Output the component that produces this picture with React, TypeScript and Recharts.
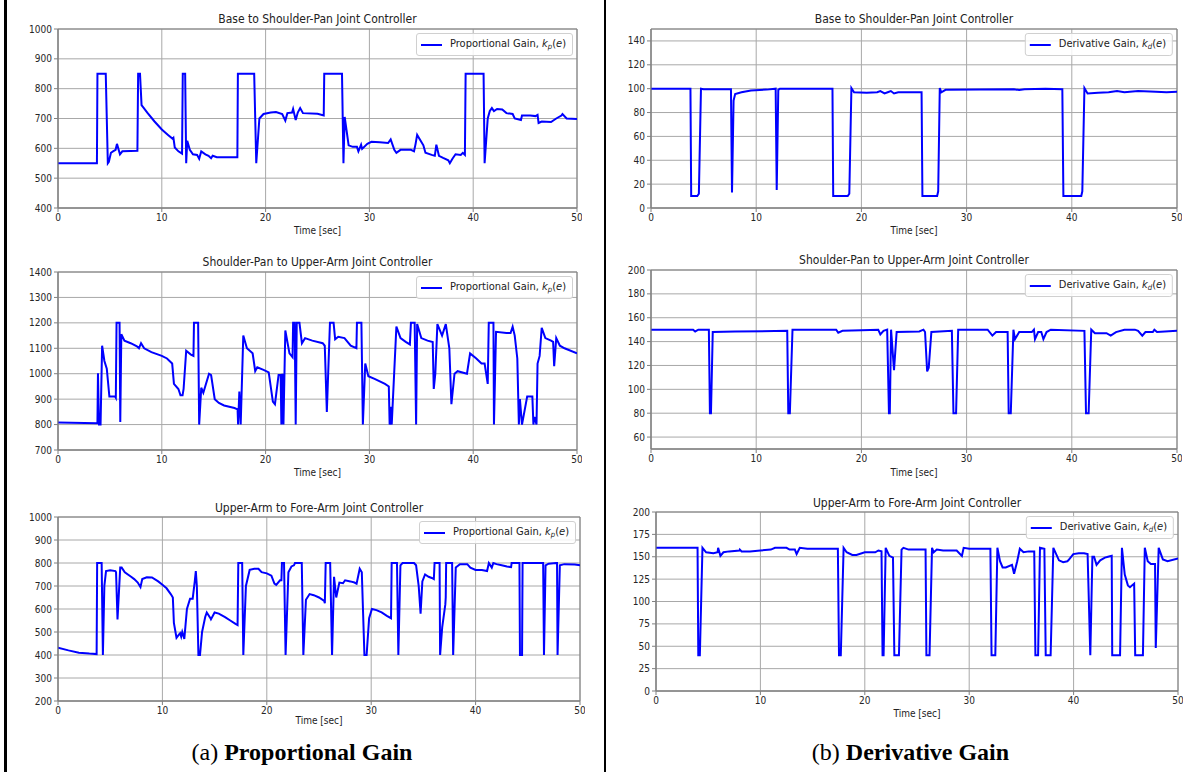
import React from 'react';
import { LineChart, Line, XAxis, YAxis, CartesianGrid, ReferenceArea } from 'recharts';

// time [s], gain
const kpBase: [number, number][] = [
  [0, 550], [3.75, 550], [3.8, 850], [4.6, 850], [4.8, 550], [4.9, 555], [5.1, 585], [5.3, 590], [5.55, 595], [5.68, 615],
  [5.97, 580], [6.2, 590], [7.65, 592], [7.72, 850], [7.9, 850], [8.05, 745], [8.6, 720], [9.3, 690], [10.0, 663], [10.6, 645],
  [11.05, 632], [11.12, 635], [11.25, 603], [11.6, 590], [11.95, 582], [12.02, 850], [12.25, 850], [12.35, 550], [12.45, 625],
  [12.7, 595], [13.0, 580], [13.4, 578], [13.6, 565], [13.8, 590], [14.2, 580], [14.5, 575], [14.75, 567], [14.9, 575],
  [15.3, 570], [17.28, 570], [17.33, 850], [18.9, 850], [19.1, 550], [19.4, 700], [19.8, 715], [20.5, 720], [21.0, 722],
  [21.6, 715], [21.9, 693], [22.1, 718], [22.55, 720], [22.65, 732], [22.9, 695], [23.1, 720], [23.33, 735], [23.6, 718],
  [25.0, 716], [25.6, 710], [25.65, 850], [27.36, 850], [27.5, 550], [27.62, 705], [28.0, 610], [28.4, 605], [28.8, 605],
  [28.94, 590], [29.2, 612], [29.3, 598], [29.8, 615], [30.2, 622], [31.0, 620], [31.8, 618], [32.05, 630], [32.4, 595],
  [32.6, 585], [33.0, 595], [34.0, 595], [34.3, 590], [34.45, 615], [34.6, 645], [35.2, 610], [35.4, 585], [36.0, 578],
  [36.3, 575], [36.45, 612], [36.7, 575], [37.1, 568], [37.6, 560], [37.75, 550], [38.0, 565], [38.3, 580], [38.8, 578],
  [39.0, 585], [39.2, 578], [39.27, 850], [41.0, 850], [41.1, 550], [41.4, 700], [41.6, 725], [41.8, 735], [42.0, 725],
  [42.3, 732], [42.8, 730], [43.2, 718], [43.8, 715], [44.0, 700], [44.6, 695], [44.7, 710], [45.5, 710], [46.0, 708],
  [46.2, 712], [46.3, 685], [46.6, 690], [47.5, 688], [48.0, 700], [48.5, 710], [48.6, 715], [49.0, 700], [50, 698],
];

const kdBase: [number, number][] = [
  [0, 100], [3.75, 100], [3.82, 10], [4.4, 10], [4.55, 12], [4.75, 100], [5.0, 99.5], [7.6, 99.5], [7.7, 13], [7.85, 90],
  [8.0, 95.5], [8.6, 97], [9.5, 98.5], [11.0, 99.2], [11.85, 100], [11.95, 15], [12.1, 99], [12.25, 100], [17.25, 100],
  [17.32, 10], [18.7, 10], [18.85, 12], [19.05, 100.5], [19.3, 97], [20.5, 96.5], [21.5, 97], [21.8, 98], [22.2, 96],
  [22.5, 97], [22.8, 98], [23.1, 96], [23.5, 97], [25.72, 97], [25.8, 10], [27.2, 10], [27.3, 14], [27.45, 100.5],
  [27.6, 97], [28.0, 99], [34.5, 99.5], [35.0, 98.8], [35.5, 99.5], [37.5, 100], [39.1, 99.5], [39.2, 10], [40.9, 10],
  [41.0, 14], [41.2, 100.5], [41.5, 96], [42.5, 96.5], [43.5, 97], [44.3, 98], [45.0, 97], [46.3, 98], [48.0, 97.5],
  [49.0, 97], [50, 97.5],
];

const kpShoulder: [number, number][] = [
  [0, 808], [3.8, 805], [3.85, 1002], [3.95, 800], [4.1, 800], [4.25, 1110], [4.47, 1050], [4.7, 1020], [4.95, 910],
  [5.5, 910], [5.57, 905], [5.64, 1200], [5.93, 1200], [6.0, 810], [6.1, 1155], [6.4, 1130], [7.0, 1120], [7.6, 1108],
  [7.8, 1100], [8.0, 1120], [8.3, 1100], [9.0, 1085], [10.0, 1070], [10.5, 1060], [11.0, 1040], [11.17, 960], [11.6, 940],
  [11.8, 915], [12.0, 915], [12.1, 940], [12.35, 1090], [12.8, 1075], [13.05, 1070], [13.1, 1200], [13.5, 1200],
  [13.6, 800], [13.8, 945], [14.0, 925], [14.55, 1000], [14.75, 995], [15.1, 900], [15.5, 885], [16.0, 875], [17.0, 865],
  [17.3, 860], [17.35, 800], [17.47, 930], [17.6, 800], [17.85, 1150], [18.2, 1100], [18.75, 1080], [19.0, 1010],
  [19.2, 1025], [19.8, 1015], [20.3, 1005], [20.7, 890], [20.9, 880], [21.25, 995], [21.45, 995], [21.52, 800],
  [21.62, 1000], [21.72, 800], [21.9, 1170], [22.3, 1080], [22.6, 1065], [22.65, 1200], [22.8, 1200], [22.9, 800],
  [23.0, 1200], [23.26, 1200], [23.5, 1120], [23.8, 1140], [24.5, 1130], [25.5, 1120], [25.7, 1110], [25.9, 850],
  [26.2, 1200], [26.55, 1200], [26.7, 1135], [27.0, 1145], [27.6, 1140], [28.2, 1110], [28.75, 1100], [28.8, 1200],
  [29.23, 1200], [29.37, 800], [29.6, 1040], [29.9, 990], [30.5, 980], [31.5, 960], [31.87, 950], [31.95, 800],
  [32.05, 870], [32.15, 800], [32.6, 1185], [33.0, 1140], [33.5, 1125], [33.9, 1115], [34.0, 1200], [34.36, 1200],
  [34.5, 800], [34.6, 1195], [35.0, 1140], [35.6, 1130], [36.1, 1125], [36.2, 940], [36.35, 1000], [36.55, 1195],
  [37.0, 1150], [37.36, 1195], [37.7, 1100], [37.9, 880], [38.2, 1000], [38.5, 1010], [39.4, 1000], [39.7, 1080],
  [40.3, 1060], [40.8, 1040], [41.1, 1040], [41.4, 960], [41.5, 1200], [41.95, 1200], [42.0, 800], [42.2, 1165],
  [43.2, 1160], [43.6, 1160], [43.8, 1185], [44.0, 1150], [44.25, 1060], [44.4, 800], [44.5, 900], [44.7, 800],
  [45.2, 910], [45.7, 910], [45.8, 800], [45.9, 830], [46.1, 800], [46.2, 1040], [46.4, 1070], [46.6, 1180],
  [46.95, 1140], [47.5, 1130], [47.7, 1125], [47.8, 1030], [48.0, 1140], [48.35, 1110], [48.8, 1100], [50, 1080],
];

const kdShoulder: [number, number][] = [
  [0, 150], [4.0, 150], [4.2, 148.5], [4.5, 150], [5.5, 150], [5.6, 80], [5.7, 80], [5.87, 148], [8.0, 148.5],
  [12.95, 149], [13.05, 80], [13.2, 80], [13.45, 150], [17.6, 150], [17.8, 147.5], [18.2, 149], [20.0, 149.5],
  [21.6, 150], [21.8, 146], [22.1, 149], [22.45, 150], [22.62, 80], [22.7, 80], [22.82, 150], [23.1, 116], [23.35, 148],
  [25.5, 148.5], [25.9, 150], [26.05, 148], [26.25, 115], [26.4, 118], [26.65, 148], [28.6, 149], [28.75, 80], [29.0, 80],
  [29.2, 150], [32.0, 150], [32.45, 145], [32.8, 148], [33.9, 148], [34.0, 80], [34.2, 80], [34.45, 150], [34.6, 142],
  [35.0, 148], [36.2, 148], [36.4, 150], [36.5, 142], [36.8, 148], [37.1, 148], [37.3, 142], [37.6, 148], [38.0, 150],
  [41.2, 149], [41.35, 80], [41.6, 80], [41.85, 150], [42.2, 147], [43.3, 147], [43.7, 145], [44.2, 148], [45.0, 150],
  [46.0, 150], [46.3, 149], [46.7, 145], [47.0, 148], [47.7, 148], [47.85, 150], [48.1, 148], [50, 149],
];

const kpUpper: [number, number][] = [
  [0, 432], [1, 420], [2, 410], [3, 406], [3.7, 404], [3.75, 800], [4.18, 800], [4.3, 400], [4.44, 700], [4.6, 765],
  [5.0, 768], [5.5, 765], [5.56, 760], [5.7, 555], [5.96, 780], [6.1, 780], [6.4, 760], [7.0, 740], [7.3, 730],
  [7.64, 715], [7.9, 695], [8.07, 730], [8.5, 738], [9.0, 737], [9.6, 720], [10.0, 705], [10.4, 690], [10.8, 665],
  [11.0, 650], [11.1, 540], [11.35, 475], [11.6, 490], [11.7, 495], [11.8, 480], [11.9, 500], [12.1, 470], [12.35, 600],
  [12.65, 645], [12.9, 645], [13.1, 720], [13.2, 765], [13.3, 700], [13.45, 400], [13.6, 400], [13.8, 500], [14.1, 565],
  [14.25, 585], [14.6, 560], [14.65, 555], [15.0, 585], [15.4, 580], [16.0, 565], [16.5, 550], [17.0, 535], [17.2, 530],
  [17.27, 800], [17.64, 800], [17.75, 400], [18.0, 700], [18.36, 770], [18.8, 775], [19.2, 775], [19.5, 760],
  [20.0, 755], [20.44, 745], [20.73, 710], [20.9, 705], [21.27, 725], [21.4, 725], [21.45, 800], [21.65, 800],
  [21.8, 400], [22.07, 760], [22.36, 785], [22.6, 790], [22.7, 800], [23.35, 800], [23.5, 400], [23.75, 640],
  [24.1, 665], [24.5, 660], [25.0, 650], [25.5, 635], [25.56, 625], [25.64, 800], [26.07, 800], [26.25, 400],
  [26.44, 740], [26.65, 650], [26.95, 715], [27.3, 712], [27.5, 725], [28.0, 720], [28.4, 715], [28.6, 710], [28.9, 775],
  [29.1, 760], [29.35, 400], [29.56, 400], [29.8, 560], [30.07, 600], [30.5, 595], [31.0, 585], [31.5, 570], [31.9, 560],
  [31.96, 800], [32.47, 800], [32.6, 400], [32.8, 790], [33.0, 800], [34.1, 800], [34.3, 790], [34.55, 700],
  [34.73, 580], [34.9, 720], [35.16, 750], [35.5, 740], [35.8, 735], [36.0, 730], [36.07, 800], [36.55, 800],
  [36.6, 400], [36.8, 520], [37.1, 620], [37.14, 650], [37.18, 800], [37.75, 800], [37.85, 400], [38.1, 780],
  [38.5, 795], [39.2, 795], [39.5, 780], [40.0, 770], [40.6, 770], [41.1, 765], [41.27, 800], [41.55, 780], [41.7, 800],
  [42.0, 795], [42.5, 790], [43.0, 785], [43.4, 782], [43.45, 800], [44.2, 800], [44.25, 400], [44.45, 400], [44.5, 800],
  [46.47, 800], [46.55, 400], [46.7, 790], [47.0, 797], [47.7, 800], [47.8, 800], [47.85, 400], [48.07, 790],
  [48.5, 795], [49.5, 793], [50, 790],
];

const kdUpper: [number, number][] = [
  [0, 160], [3.98, 160], [4.05, 40], [4.2, 40], [4.45, 160], [4.8, 155], [5.5, 154], [5.9, 155], [5.95, 160],
  [6.17, 151], [6.46, 155], [7.0, 156], [8.0, 157], [8.03, 158], [8.2, 156], [9.0, 156], [10.0, 157], [11.0, 158],
  [11.4, 160], [12.5, 160], [12.8, 158], [13.3, 158], [13.47, 153], [13.77, 160], [14.5, 159], [17.42, 159],
  [17.53, 40], [17.7, 40], [17.97, 160], [18.26, 155], [18.8, 152], [19.2, 152], [20.0, 155], [21.0, 155], [21.3, 157],
  [21.6, 156], [21.7, 40], [21.8, 40], [22.0, 160], [22.35, 151], [22.7, 149], [22.83, 40], [23.27, 40], [23.52, 158],
  [23.7, 160], [24.2, 158], [25.82, 158], [25.9, 40], [26.2, 40], [26.44, 160], [26.6, 155], [26.9, 158], [27.5, 157],
  [28.8, 157], [29.3, 151], [29.47, 160], [30.0, 159], [32.03, 159], [32.14, 40], [32.5, 40], [32.7, 160], [32.95, 145],
  [33.2, 138], [33.5, 138], [34.1, 141], [34.3, 131], [34.6, 145], [34.85, 159], [35.2, 155], [35.7, 156], [36.23, 156],
  [36.34, 40], [36.6, 40], [36.78, 160], [37.2, 159], [37.33, 40], [37.8, 40], [38.06, 160], [38.6, 146], [39.0, 144],
  [39.4, 145], [39.5, 146], [39.97, 153], [40.5, 154], [41.0, 154], [41.34, 153], [41.6, 40], [41.8, 150], [41.96, 150],
  [42.2, 141], [42.55, 146], [43.0, 149], [43.3, 150], [43.65, 151], [43.7, 40], [44.45, 40], [44.63, 160], [44.9, 130],
  [45.2, 118], [45.4, 116], [45.8, 120], [45.9, 40], [46.64, 40], [46.82, 160], [47.1, 145], [47.4, 142], [47.8, 142],
  [47.87, 48], [48.15, 160], [48.55, 147], [49.0, 145], [50, 148],
];

const xTicks = [0, 10, 20, 30, 40, 50];
const kpBaseTicks = [400, 500, 600, 700, 800, 900, 1000];
const kdBaseTicks = [0, 20, 40, 60, 80, 100, 120, 140];
const kpShoulderTicks = [700, 800, 900, 1000, 1100, 1200, 1300, 1400];
const kdShoulderTicks = [60, 80, 100, 120, 140, 160, 180, 200];
const kpUpperTicks = [200, 300, 400, 500, 600, 700, 800, 900, 1000];
const kdUpperTicks = [0, 25, 50, 75, 100, 125, 150, 175, 200];

const FONT = "'DejaVu Sans Condensed', 'DejaVu Sans', sans-serif";
const SERIF = "'Liberation Serif', 'Times New Roman', serif";

function GainLabel({ kind }: { kind: 'p' | 'd' }) {
  return (
    <span>
      {kind === 'p' ? 'Proportional Gain, ' : 'Derivative Gain, '}
      <i>k</i>
      <i style={{ fontSize: '0.7em', position: 'relative', top: '0.3em' }}>{kind}</i>
      (<i>e</i>)
    </span>
  );
}

interface PanelProps {
  series: [number, number][];
  domain: [number, number];
  yTicks: number[];
  left: number;
  top: number;
  width: number;
  height: number;
  title: string;
  titleY: number;
  xlabelY: number;
  kind: 'p' | 'd';
}

function Panel({ series, domain, yTicks, left, top, width, height, title, titleY, xlabelY, kind }: PanelProps) {
  const data = series.map(([t, v]) => ({ t, v }));
  const tick = { fill: '#262626', fontSize: 10, fontFamily: FONT };
  return (
    <>
      <div style={{ position: 'absolute', left, width, top: titleY - 8, height: 16, lineHeight: '16px', textAlign: 'center', fontSize: 12, color: '#222' }}>
        {title}
      </div>
      <div style={{ position: 'absolute', left: left - 55, top: top - 5 }}>
        <LineChart width={width + 60} height={height + 30} data={data} margin={{ top: 5, right: 5, left: 0, bottom: 0 }}>
          <CartesianGrid stroke="#a8a8a8" strokeWidth={1} />
          <XAxis dataKey="t" type="number" domain={[0, 50]} ticks={xTicks} allowDataOverflow height={25}
            tickSize={4} tickMargin={2} stroke="#808080" tick={tick} interval={0} />
          <YAxis type="number" domain={domain} ticks={yTicks} allowDataOverflow width={55}
            tickSize={4} tickMargin={2} stroke="#808080" tick={tick} interval={0} />
          <ReferenceArea x1={0} x2={50} y1={domain[0]} y2={domain[1]} fill="none" stroke="#808080" strokeWidth={1} />
          <Line type="linear" dataKey="v" stroke="#0000ff" strokeWidth={2} dot={false} isAnimationActive={false} />
        </LineChart>
      </div>
      <div style={{ position: 'absolute', left: left + width - 4, top: top + 4, transform: 'translateX(-100%)',
        display: 'flex', alignItems: 'center', whiteSpace: 'nowrap', background: 'rgba(255,255,255,0.85)',
        border: '1px solid #d0d0d0', borderRadius: 3, padding: '3px 6px 3px 4px', fontSize: 11, color: '#222', lineHeight: '14px' }}>
        <span style={{ display: 'inline-block', width: 21, height: 2, background: '#0000ff', marginRight: 8 }} />
        <GainLabel kind={kind} />
      </div>
      <div style={{ position: 'absolute', left, width, top: xlabelY - 7, height: 14, lineHeight: '14px', textAlign: 'center', fontSize: 10, color: '#222' }}>
        Time [sec]
      </div>
    </>
  );
}

export default function App() {
  return (
    <div style={{ position: 'absolute', left: 0, top: 0, width: 1195, height: 772, background: '#fff', fontFamily: FONT, overflow: 'hidden' }}>
      <div style={{ position: 'absolute', left: 4, top: 0, width: 3, height: 772, background: '#000' }} />
      <div style={{ position: 'absolute', left: 604, top: 0, width: 2, height: 772, background: '#000' }} />

      <Panel series={kpBase} domain={[400, 1000]} yTicks={kpBaseTicks} left={58} top={29} width={519} height={179}
        title="Base to Shoulder-Pan Joint Controller" titleY={19} xlabelY={231} kind="p" />
      <Panel series={kdBase} domain={[0, 150]} yTicks={kdBaseTicks} left={651} top={29} width={526} height={179}
        title="Base to Shoulder-Pan Joint Controller" titleY={19} xlabelY={231} kind="d" />
      <Panel series={kpShoulder} domain={[700, 1400]} yTicks={kpShoulderTicks} left={58} top={272} width={519} height={178}
        title="Shoulder-Pan to Upper-Arm Joint Controller" titleY={262} xlabelY={473} kind="p" />
      <Panel series={kdShoulder} domain={[50, 200]} yTicks={kdShoulderTicks} left={651} top={270} width={526} height={179}
        title="Shoulder-Pan to Upper-Arm Joint Controller" titleY={260} xlabelY={473} kind="d" />
      <Panel series={kpUpper} domain={[200, 1000]} yTicks={kpUpperTicks} left={58} top={517} width={522} height={184}
        title="Upper-Arm to Fore-Arm Joint Controller" titleY={508} xlabelY={721} kind="p" />
      <Panel series={kdUpper} domain={[0, 200]} yTicks={kdUpperTicks} left={656} top={512} width={522} height={179}
        title="Upper-Arm to Fore-Arm Joint Controller" titleY={503} xlabelY={714} kind="d" />

      <div style={{ position: 'absolute', left: 0, width: 604, top: 736, height: 32, lineHeight: '32px', textAlign: 'center', fontFamily: SERIF, fontSize: 24, color: '#000' }}>
        (a) <b>Proportional Gain</b>
      </div>
      <div style={{ position: 'absolute', left: 616, width: 589, top: 736, height: 32, lineHeight: '32px', textAlign: 'center', fontFamily: SERIF, fontSize: 24, color: '#000' }}>
        (b) <b>Derivative Gain</b>
      </div>
    </div>
  );
}
